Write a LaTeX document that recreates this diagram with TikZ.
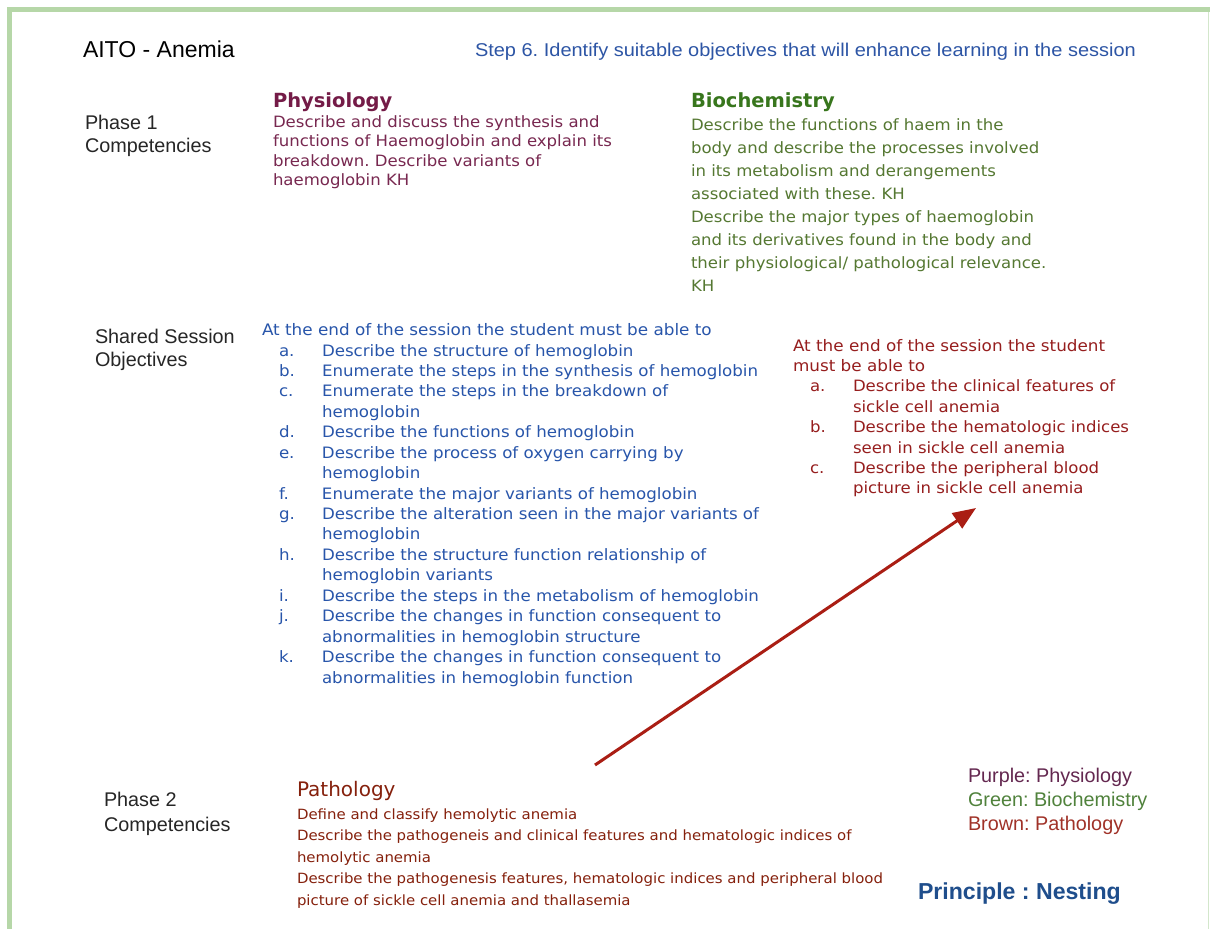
\documentclass[tikz,border=0pt]{standalone}
\usepackage{fontspec}
\setmainfont{Liberation Sans}
\newfontfamily\verd[FakeStretch=1.06]{DejaVu Sans}
\newfontfamily\verdh{DejaVu Sans}
\newfontfamily\widesans[FakeStretch=1.08]{Liberation Sans}
\usetikzlibrary{arrows.meta}
\frenchspacing
\definecolor{bordergreen}{RGB}{182,215,168}
\definecolor{stepblue}{RGB}{45,85,165}
\definecolor{objblue}{RGB}{40,85,170}
\definecolor{physpurple}{RGB}{116,27,71}
\definecolor{physbody}{RGB}{120,40,80}
\definecolor{biogreen}{RGB}{56,118,29}
\definecolor{biobody}{RGB}{85,120,50}
\definecolor{redtext}{RGB}{150,30,30}
\definecolor{pathbrown}{RGB}{133,32,12}
\definecolor{arrowred}{RGB}{170,30,20}
\definecolor{legpurple}{RGB}{100,40,80}
\definecolor{leggreen}{RGB}{80,130,60}
\definecolor{legbrown}{RGB}{160,50,40}
\definecolor{princblue}{RGB}{31,78,140}
\newcommand\txtblock[1]{\vtop{\halign{##\hfil\cr#1\crcr}}}
\newcommand\lstblock[2]{\vtop{\halign{\hbox to #1{##\hfil}&##\hfil\cr#2\crcr}}}
\begin{document}
\frenchspacing
\begin{tikzpicture}[x=1pt,y=-1pt,
  txt/.style={anchor=base west,inner sep=0pt,outer sep=0pt},
  label/.style={txt,font=\fontsize{19.8}{23}\selectfont,text=black!85},
  body/.style={txt,font=\verd\fontsize{15.6}{19.5}\selectfont}]
\useasboundingbox (0,0) rectangle (1210,929);
\fill[white] (0,0) rectangle (1210,929);
% border
\fill[bordergreen] (7,7) rectangle (1210,12);
\fill[bordergreen] (7,7) rectangle (12,929);
\draw[bordergreen!60,line width=1pt] (1208,12) -- (1208,929);

% titles
\node[txt,font=\fontsize{23}{27}\selectfont] (title) at (83,57) {AITO - Anemia};
\node[txt,font=\widesans\fontsize{18.5}{20}\selectfont,text=stepblue] (step) at (475,56) {Step 6. Identify suitable objectives that will enhance learning in the session};

% left labels
\node[label] (ph1) at (85,129.5) {\txtblock{Phase 1\cr Competencies}};
\node[label] (sso) at (95,343.5) {\txtblock{Shared Session\cr Objectives}};
\node[label,font=\fontsize{19.8}{25}\selectfont] (ph2) at (104,806.5) {\txtblock{Phase 2\cr Competencies}};

% physiology
\node[txt,font=\verdh\bfseries\fontsize{19.5}{22}\selectfont,text=physpurple] (physhead) at (273,107) {Physiology};
\node[body,text=physbody] (physbody) at (273,127) {\txtblock{Describe and discuss the synthesis and\cr
functions of Haemoglobin and explain its\cr
breakdown. Describe variants of\cr
haemoglobin KH}};

% biochemistry
\node[txt,font=\verdh\bfseries\fontsize{19.5}{22}\selectfont,text=biogreen] (biohead) at (691,107) {Biochemistry};
\node[body,font=\verd\fontsize{15.6}{23.1}\selectfont,text=biobody] (biobody) at (691,130) {\txtblock{Describe the functions of haem in the\cr
body and describe the processes involved\cr
in its metabolism and derangements\cr
associated with these. KH\cr
Describe the major types of haemoglobin\cr
and its derivatives found in the body and\cr
their physiological/ pathological relevance.\cr
KH}};

% shared objectives (blue)
\node[body,font=\verd\fontsize{15.85}{20.44}\selectfont,text=objblue] (bluehead) at (262,335.5) {At the end of the session the student must be able to};
\node[body,font=\verd\fontsize{15.7}{20.44}\selectfont,text=objblue] (bluelist) at (279,356) {\lstblock{43pt}{a.&Describe the structure of hemoglobin\cr
b.&Enumerate the steps in the synthesis of hemoglobin\cr
c.&Enumerate the steps in the breakdown of\cr
&hemoglobin\cr
d.&Describe the functions of hemoglobin\cr
e.&Describe the process of oxygen carrying by\cr
&hemoglobin\cr
f.&Enumerate the major variants of hemoglobin\cr
g.&Describe the alteration seen in the major variants of\cr
&hemoglobin\cr
h.&Describe the structure function relationship of\cr
&hemoglobin variants\cr
i.&Describe the steps in the metabolism of hemoglobin\cr
j.&Describe the changes in function consequent to\cr
&abnormalities in hemoglobin structure\cr
k.&Describe the changes in function consequent to\cr
&abnormalities in hemoglobin function}};

% shared objectives (red)
\node[body,font=\verd\fontsize{15.85}{20.4}\selectfont,text=redtext] (redhead) at (793,351) {\txtblock{At the end of the session the student\cr must be able to}};
\node[body,font=\verd\fontsize{15.6}{20.4}\selectfont,text=redtext] (redlist) at (810,391.8) {\lstblock{43pt}{a.&Describe the clinical features of\cr
&sickle cell anemia\cr
b.&Describe the hematologic indices\cr
&seen in sickle cell anemia\cr
c.&Describe the peripheral blood\cr
&picture in sickle cell anemia}};

% arrow
\coordinate (arrowstart) at (595,765);
\coordinate (arrowend) at (976,508);
\draw[arrowred,line width=3pt,-{Triangle[length=23pt,width=18pt]}] (arrowstart) -- (arrowend);

% pathology
\node[txt,font=\verdh\fontsize{20}{22}\selectfont,text=pathbrown] (pathhead) at (297,796) {Pathology};
\node[body,font=\verd\fontsize{14.1}{21.5}\selectfont,text=pathbrown] (pathbody) at (297,819) {\txtblock{Define and classify hemolytic anemia\cr
Describe the pathogeneis and clinical features and hematologic indices of\cr
hemolytic anemia\cr
Describe the pathogenesis features, hematologic indices and peripheral blood\cr
picture of sickle cell anemia and thallasemia}};

% legend
\node[txt,font=\fontsize{19.8}{24}\selectfont,text=legpurple] (leg1) at (968,782.5) {Purple: Physiology};
\node[txt,font=\fontsize{19.8}{24}\selectfont,text=leggreen] (leg2) at (968,806.5) {Green: Biochemistry};
\node[txt,font=\fontsize{19.8}{24}\selectfont,text=legbrown] (leg3) at (968,830.5) {Brown: Pathology};
\node[txt,font=\bfseries\fontsize{23.1}{26}\selectfont,text=princblue] (principle) at (918,899) {Principle : Nesting};
\end{tikzpicture}
\end{document}
